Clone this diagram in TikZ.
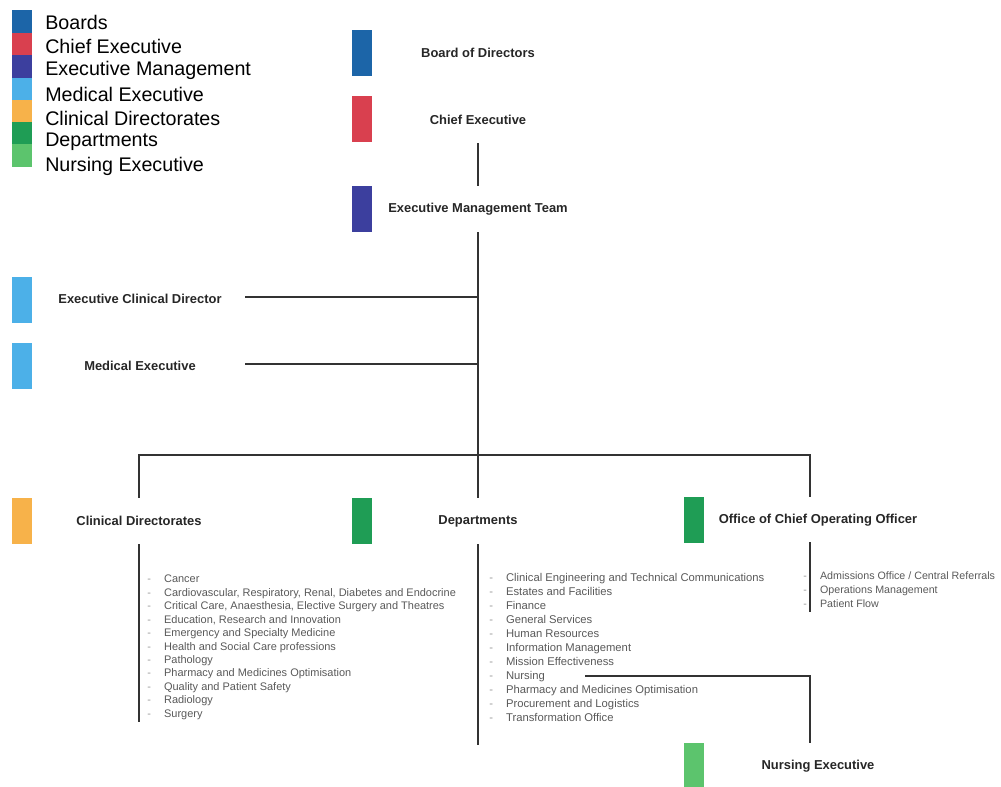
\documentclass[tikz,border=0pt]{standalone}
\usepackage{fontspec}
\setmainfont{Liberation Sans}
\usetikzlibrary{positioning}

\definecolor{boardc}{HTML}{1C65A8}
\definecolor{chiefc}{HTML}{D9404F}
\definecolor{emtc}{HTML}{3C3F9E}
\definecolor{medc}{HTML}{4CB0E8}
\definecolor{clinc}{HTML}{F7B24A}
\definecolor{depc}{HTML}{1F9D55}
\definecolor{nursec}{HTML}{5CC46D}

\newcommand{\bl}[1]{\makebox[0.42cm][l]{\textcolor{black!40}{-}}#1}

\tikzset{
    colbar/.style={minimum width=0.5cm, minimum height=1.15cm, inner sep=0pt},
    legbox/.style={minimum width=0.5cm, minimum height=0.56cm, inner sep=0pt},
    legtext/.style={anchor=west, inner sep=0pt, font=\fontsize{14}{16}\selectfont},
    headbox/.style={minimum height=1.15cm, inner sep=0pt, text=black!85,
        font=\fontsize{9.2}{11}\selectfont\bfseries},
    itemlist/.style={anchor=north west, inner sep=0pt, align=left, text=black!65},
    link/.style={draw=black!80, line width=0.8pt}
}

\begin{document}
\begin{tikzpicture}[x=0.025cm, y=-0.025cm]
    \useasboundingbox (0,0) rectangle (1001,787);

    % legend
    \node[legbox, fill=boardc] (leg1) at (22,21.5) {};
    \node[legbox, fill=chiefc] (leg2) at (22,44) {};
    \node[legbox, fill=emtc] (leg3) at (22,66.5) {};
    \node[legbox, fill=medc] (leg4) at (22,89) {};
    \node[legbox, fill=clinc] (leg5) at (22,111.5) {};
    \node[legbox, fill=depc] (leg6) at (22,133) {};
    \node[legbox, fill=nursec] (leg7) at (22,155.5) {};
    \node[legtext] (legt1) at (45,22) {Boards};
    \node[legtext] (legt2) at (45,46) {Chief Executive};
    \node[legtext] (legt3) at (45,70) {Executive Management};
    \node[legtext] (legt4) at (45,94) {Medical Executive};
    \node[legtext] (legt5) at (45,118) {Clinical Directorates};
    \node[legtext] (legt6) at (45,142) {Departments};
    \node[legtext] (legt7) at (45,166) {Nursing Executive};

    % colour bars
    \node[colbar, fill=boardc] (bod-bar) at (362,53) {};
    \node[colbar, fill=chiefc] (ce-bar) at (362,119) {};
    \node[colbar, fill=emtc] (emt-bar) at (362,209) {};
    \node[colbar, fill=medc] (ecd-bar) at (22,300) {};
    \node[colbar, fill=medc] (me-bar) at (22,366) {};
    \node[colbar, fill=clinc] (cd-bar) at (22,521) {};
    \node[colbar, fill=depc] (dep-bar) at (362,521) {};
    \node[colbar, fill=depc] (coo-bar) at (694,520) {};
    \node[colbar, fill=nursec] (ne-bar) at (694,766) {};

    % headings
    \node[headbox] (bod) at (478,53) {Board of Directors};
    \node[headbox] (ce) at (478,120) {Chief Executive};
    \node[headbox] (emt) at (478,209) {Executive Management Team};
    \node[headbox] (ecd) at (140,299) {Executive Clinical Director};
    \node[headbox] (me) at (140,366) {Medical Executive};
    \node[headbox] (cd) at (139,521) {Clinical Directorates};
    \node[headbox] (dep) at (478,521) {Departments};
    \node[headbox] (coo) at (818,520) {Office of Chief Operating Officer};
    \node[headbox] (ne) at (818,766) {Nursing Executive};

    \coordinate (hub) at (478,455);
    \coordinate (ecd-end) at (245,297);
    \coordinate (me-end) at (245,364);
    \coordinate (coo-top) at (810,497);
    \coordinate (coo-bot) at (810,542);
    \coordinate (coo-end) at (810,612);
    \coordinate (cd-end) at (139,722);
    \coordinate (dep-end) at (478,745);
    \coordinate (nurs-start) at (585,676);
    \coordinate (ne-top) at (810,743);

    \draw[link] (ce) -- (emt);
    \draw[link] (emt) -- (dep);
    \draw[link] (ecd-end) -- (ecd-end -| hub);
    \draw[link] (me-end) -- (me-end -| hub);
    \draw[link] (hub) -| (cd);
    \draw[link] (hub) -| (coo-top);
    \draw[link] (cd) -- (cd-end);
    \draw[link] (dep) -- (dep-end);
    \draw[link] (coo-bot) -- (coo-end);
    \draw[link] (nurs-start) -| (ne-top);

    % lists
    \node[itemlist, font=\fontsize{7.8}{9.55}\selectfont] (cd-list) at (147,575) {
        \bl{Cancer}\\
        \bl{Cardiovascular, Respiratory, Renal, Diabetes and Endocrine}\\
        \bl{Critical Care, Anaesthesia, Elective Surgery and Theatres}\\
        \bl{Education, Research and Innovation}\\
        \bl{Emergency and Specialty Medicine}\\
        \bl{Health and Social Care professions}\\
        \bl{Pathology}\\
        \bl{Pharmacy and Medicines Optimisation}\\
        \bl{Quality and Patient Safety}\\
        \bl{Radiology}\\
        \bl{Surgery}};
    \node[itemlist, font=\fontsize{8}{9.95}\selectfont] (dep-list) at (489,573) {
        \bl{Clinical Engineering and Technical Communications}\\
        \bl{Estates and Facilities}\\
        \bl{Finance}\\
        \bl{General Services}\\
        \bl{Human Resources}\\
        \bl{Information Management}\\
        \bl{Mission Effectiveness}\\
        \bl{Nursing}\\
        \bl{Pharmacy and Medicines Optimisation}\\
        \bl{Procurement and Logistics}\\
        \bl{Transformation Office}};
    \node[itemlist, font=\fontsize{7.6}{9.95}\selectfont] (coo-list) at (803,571) {
        \makebox[0.42cm][l]{\textcolor{black!40}{-}}Admissions Office / Central Referrals\\
        \makebox[0.42cm][l]{\textcolor{black!40}{-}}Operations Management\\
        \makebox[0.42cm][l]{\textcolor{black!40}{-}}Patient Flow};
\end{tikzpicture}
\end{document}
